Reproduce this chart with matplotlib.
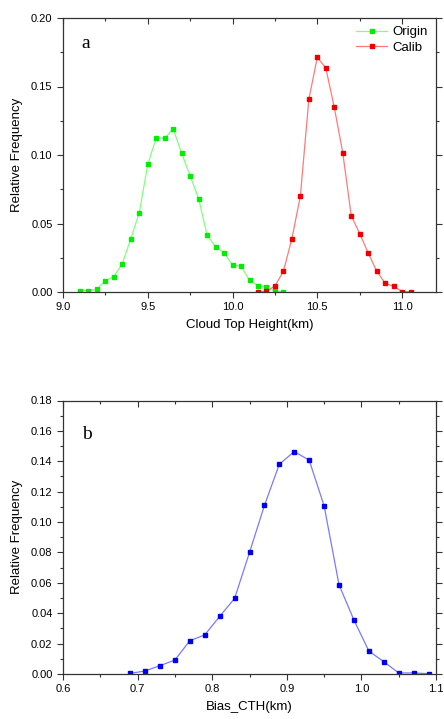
import numpy as np
import matplotlib
matplotlib.use('Agg')
import matplotlib.pyplot as plt
from matplotlib.ticker import MultipleLocator

plt.rcParams['font.family'] = ['Liberation Sans', 'DejaVu Sans']

# panel a: cloud top height distribution
cth_origin = [9.10, 9.15, 9.20, 9.25, 9.30, 9.35, 9.40, 9.45, 9.50, 9.55, 9.60,
              9.65, 9.70, 9.75, 9.80, 9.85, 9.90, 9.95, 10.00, 10.05, 10.10,
              10.15, 10.20, 10.25, 10.30]
freq_origin = [0.001, 0.001, 0.002, 0.0083, 0.0112, 0.0207, 0.0389, 0.0579,
               0.0932, 0.1126, 0.1122, 0.119, 0.1012, 0.0847, 0.0681, 0.0416,
               0.0328, 0.0287, 0.0195, 0.019, 0.0085, 0.0046, 0.0039, 0.0005,
               0.0002]
cth_calib = [10.15, 10.20, 10.25, 10.30, 10.35, 10.40, 10.45, 10.50, 10.55,
             10.60, 10.65, 10.70, 10.75, 10.80, 10.85, 10.90, 10.95, 11.00, 11.05]
freq_calib = [0.0002, 0.0005, 0.0044, 0.0151, 0.0389, 0.070, 0.1406, 0.1713,
              0.1635, 0.1348, 0.1017, 0.0557, 0.0426, 0.0285, 0.0153, 0.0063,
              0.0041, 0.0003, 0.0002]

# panel b: bias distribution
bias = [0.69, 0.71, 0.73, 0.75, 0.77, 0.79, 0.81, 0.83, 0.85, 0.87, 0.89,
        0.91, 0.93, 0.95, 0.97, 0.99, 1.01, 1.03, 1.05, 1.07, 1.09]
freq_bias = [0.0004, 0.002, 0.0055, 0.0092, 0.0219, 0.0257, 0.0379, 0.0497,
             0.080, 0.1109, 0.1381, 0.1464, 0.1407, 0.1107, 0.0587, 0.0355,
             0.0151, 0.0081, 0.0007, 0.0007, 0.0002]

W, H = 444, 719
fig = plt.figure(figsize=(W / 100, H / 100), dpi=100)
ax1 = fig.add_axes([63 / W, 1 - 292 / H, 373 / W, 274 / H])
ax2 = fig.add_axes([63 / W, 1 - 674 / H, 373 / W, 273.5 / H])


def style_axes(ax):
    for s in ax.spines.values():
        s.set_linewidth(0.9)
        s.set_color('#333333')
    ax.tick_params(which='both', labelsize=8, color='#333333', width=0.8)
    ax.tick_params(which='major', length=4)
    ax.tick_params(which='minor', length=2.5)
    ax.tick_params(which='both', top=True, right=True, direction='out')
    # Origin style: ticks on top/right point inward
    for tl in ax.xaxis.get_ticklines(minor=False)[1::2] + ax.xaxis.get_ticklines(minor=True)[1::2]:
        tl.set_marker(3)
    for tl in ax.yaxis.get_ticklines(minor=False)[1::2] + ax.yaxis.get_ticklines(minor=True)[1::2]:
        tl.set_marker(1)


ax1.plot(cth_origin, freq_origin, '-s', color='#80ff80', lw=0.9, ms=2.2,
         mfc='#00ee00', mec='#00ee00', label='Origin')
ax1.plot(cth_calib, freq_calib, '-s', color='#ff7a7a', lw=0.9, ms=2.2,
         mfc='#ee0000', mec='#ee0000', label='Calib')
ax1.set_xlim(9.0, 11.2)
ax1.set_ylim(0, 0.20)
ax1.xaxis.set_major_locator(MultipleLocator(0.5))
ax1.xaxis.set_minor_locator(MultipleLocator(0.25))
ax1.yaxis.set_major_locator(MultipleLocator(0.05))
ax1.yaxis.set_minor_locator(MultipleLocator(0.025))
ax1.xaxis.set_major_formatter(plt.FormatStrFormatter('%.1f'))
ax1.yaxis.set_major_formatter(plt.FormatStrFormatter('%.2f'))
ax1.set_xlabel('Cloud Top Height(km)', fontsize=9.5, labelpad=5)
ax1.set_ylabel('Relative Frequency', fontsize=9.5, labelpad=6)
ax1.text(0.05, 0.89, 'a', transform=ax1.transAxes, fontsize=14,
         family=['Liberation Serif', 'DejaVu Serif'])
ax1.legend(loc='upper right', frameon=False, fontsize=9.5, handlelength=2.4,
           handletextpad=0.4, borderaxespad=0.2, labelspacing=0.25)
style_axes(ax1)

ax2.plot(bias, freq_bias, '-s', color='#7a7aff', lw=0.9, ms=2.2,
         mfc='#0000ee', mec='#0000ee')
ax2.set_xlim(0.6, 1.1)
ax2.set_ylim(0, 0.18)
ax2.xaxis.set_major_locator(MultipleLocator(0.1))
ax2.xaxis.set_minor_locator(MultipleLocator(0.05))
ax2.yaxis.set_major_locator(MultipleLocator(0.02))
ax2.yaxis.set_minor_locator(MultipleLocator(0.01))
ax2.xaxis.set_major_formatter(plt.FormatStrFormatter('%.1f'))
ax2.yaxis.set_major_formatter(plt.FormatStrFormatter('%.2f'))
ax2.set_xlabel('Bias_CTH(km)', fontsize=9.5, labelpad=5)
ax2.set_ylabel('Relative Frequency', fontsize=9.5, labelpad=6)
ax2.text(0.05, 0.86, 'b', transform=ax2.transAxes, fontsize=14,
         family=['Liberation Serif', 'DejaVu Serif'])
style_axes(ax2)

fig.savefig('out.png', dpi=100)
